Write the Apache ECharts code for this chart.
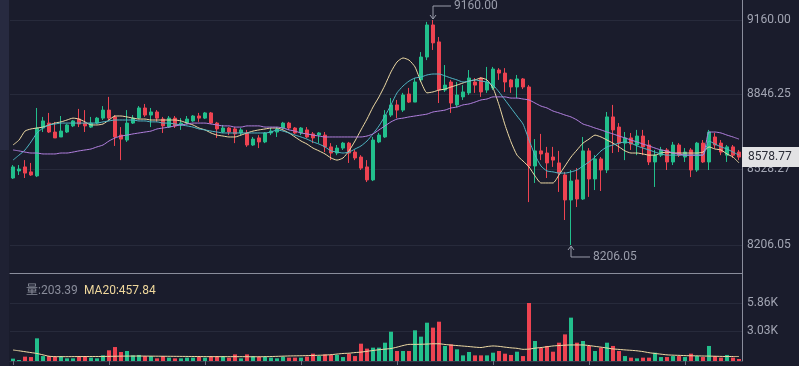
<!DOCTYPE html>
<html><head><meta charset="utf-8">
<script src="https://cdn.jsdelivr.net/npm/echarts@6/dist/echarts.min.js"></script>
<style>html,body{margin:0;padding:0;background:#1a1c2c;}#c{width:799px;height:366px;}</style>
</head><body><div id="c"></div>
<script>
// ---- data ----
const opens=[8490,8520,8537,8516,8499,8702,8723,8685,8664,8685,8711,8740,8723,8706,8723,8744,8778,8749,8672,8651,
8723,8744,8787,8757,8770,8740,8706,8744,8715,8723,8732,8753,8744,8766,8723,8685,8702,8698,8681,8681,
8630,8660,8643,8681,8685,8702,8723,8702,8681,8694,8677,8672,8672,8622,8596,8617,8638,8600,8579,8537,
8482,8643,8664,8757,8800,8778,8846,8812,8906,9003,9139,9067,8863,8897,8800,8834,8851,8897,8914,8863,
8872,8948,8935,8906,8876,8910,8876,8541,8605,8596,8579,8554,8503,8397,8482,8401,8605,8486,8571,8524,
8749,8706,8638,8660,8630,8668,8630,8558,8587,8609,8558,8630,8579,8609,8524,8638,8558,8664,8638,8587,
8622,8600];
const closes=[8537,8528,8511,8503,8702,8732,8685,8660,8689,8715,8732,8719,8711,8723,8744,8778,8744,8664,8655,8723,
8744,8787,8757,8770,8744,8711,8744,8711,8723,8740,8753,8744,8766,8723,8698,8702,8685,8677,8694,8630,
8655,8643,8681,8689,8698,8723,8702,8681,8702,8664,8660,8681,8622,8596,8617,8638,8596,8575,8532,8482,
8651,8672,8757,8800,8778,8842,8812,8897,9003,9139,9063,8863,8884,8808,8842,8855,8914,8884,8855,8897,
8952,8935,8897,8876,8910,8876,8541,8605,8592,8554,8566,8511,8397,8477,8401,8605,8486,8571,8524,8749,
8694,8638,8660,8634,8668,8622,8558,8587,8609,8558,8630,8587,8600,8524,8638,8558,8685,8630,8600,8622,
8587,8578.77];
const lows=[8486,8503,8490,8499,8494,8685,8681,8660,8664,8681,8706,8706,8685,8702,8719,8736,8736,8626,8566,8643,
8719,8740,8749,8706,8728,8681,8702,8702,8694,8719,8728,8728,8740,8719,8660,8681,8672,8638,8672,8622,
8626,8617,8638,8672,8664,8698,8694,8677,8672,8660,8638,8638,8600,8566,8587,8609,8554,8566,8524,8473,
8477,8638,8660,8749,8744,8770,8808,8812,8897,8990,9033,8808,8855,8766,8791,8821,8842,8851,8834,8851,
8863,8906,8855,8851,8829,8867,8388,8469,8566,8490,8537,8431,8312,8206.05,8367,8397,8410,8439,8435,8511,
8596,8600,8566,8609,8587,8587,8545,8452,8579,8524,8545,8579,8558,8494,8516,8554,8524,8617,8587,8558,
8575,8566];
const highs=[8545,8545,8566,8554,8787,8749,8766,8728,8753,8719,8736,8783,8778,8749,8749,8795,8834,8757,8706,8778,
8757,8795,8804,8787,8778,8749,8753,8753,8744,8753,8757,8766,8770,8770,8728,8715,8706,8706,8702,8694,
8664,8672,8685,8702,8706,8728,8728,8706,8706,8706,8685,8685,8685,8638,8630,8643,8643,8609,8587,8566,
8664,8681,8778,8829,8821,8851,8872,8914,9024,9152,9160,9088,8969,8906,8897,8884,8948,8914,8918,8961,
8961,8956,8956,8910,8927,8914,8884,8655,8677,8622,8622,8605,8516,8524,8532,8664,8617,8587,8579,8770,
8800,8723,8685,8681,8694,8694,8651,8609,8622,8617,8643,8638,8617,8617,8643,8651,8694,8681,8651,8630,
8630,8609];
const volumes=[240,100,440,400,2290,500,500,440,500,270,270,500,500,340,270,570,1080,1410,910,1010,
570,610,500,500,270,500,340,270,270,340,340,440,340,500,500,500,340,670,270,670,
500,440,440,340,270,440,340,340,340,440,740,500,670,610,610,400,740,500,1750,1250,
1350,1350,1850,2960,1010,1010,1010,3100,2460,3870,3370,3970,1520,1680,1180,570,910,570,570,570,
840,1010,740,610,940,500,5860,2020,1350,1520,940,1850,2690,4380,1850,2020,1520,1010,1350,1850,
1520,1010,500,340,270,340,340,840,400,400,500,500,400,740,500,400,1520,500,340,610,
340,203.39];
const volMA20=[1110,1030,940,850,760,620,480,440,
440,440,445,450,450,455,455,460,470,480,490,495,500,500,495,490,485,480,475,470,465,460,455,450,445,440,440,440,440,440,440,435,430,
430,440,450,470,490,510,520,530,545,560,580,600,
640,700,760,790,850,900,980,1060,1140,1200,1260,1400,1560,1680,1680,1690,1710,1740,1740,1670,
1610,1560,1510,1460,1400,1360,1460,1520,1480,1400,1330,1280,1180,1200,1300,1360,1440,1520,1560,1600,
1620,1620,1620,1560,1480,1400,1310,1220,1170,1120,1080,1030,950,840,760,690,620,590,570,545,
530,520,505,495,480,465,450,455,457.84];
const ma5=[8630,8651,8689,8698,8702,8706,8715,8723,8728,8736,8744,8740,8728,8715,8715,8719,8736,8753,8753,8749,
8744,8740,8740,8736,8736,8736,8736,8736,8732,8723,8715,8702,8694,8681,8672,8668,8664,8664,8672,8681,
8689,8694,8698,8702,8702,8694,8681,8664,8647,8634,8617,8605,8592,8575,8566,8575,8605,8647,8694,8740,
8791,8834,8884,8940,8982,8999,8990,8961,8897,8851,8855,8863,8867,8876,8884,8893,8901,8906,8914,8906,
8872,8800,8715,8643,8587,8562,8537,8499,8469,8469,8469,8503,8541,8579,8609,8638,8655,8672,8664,8651,
8638,8622,8605,8596,8596,8592,8587,8587,8596,8600,8596,8596,8596,8596,8596,8600,8622,8613,8609,8592,
8579,8554];
const ma10=[8566,8587,8609,8643,8681,8702,8715,8719,8723,8723,8723,8723,8723,8723,8723,8728,8732,8736,8736,8736,
8736,8732,8732,8728,8728,8723,8723,8719,8715,8711,8706,8698,8694,8689,8685,8681,8681,8681,8681,8681,
8681,8681,8681,8685,8694,8689,8681,8672,8664,8655,8643,8634,8622,8605,8600,8596,8600,8613,8626,8647,
8677,8711,8753,8800,8851,8880,8901,8914,8918,8927,8931,8931,8923,8914,8906,8897,8901,8906,8901,8897,
8884,8855,8821,8787,8753,8719,8651,8587,8541,8520,8516,8511,8511,8516,8524,8541,8558,8579,8605,8622,
8630,8638,8643,8638,8626,8617,8609,8600,8592,8587,8587,8587,8587,8587,8587,8587,8647,8634,8622,8613,
8600,8587];
const ma30=[8609,8605,8600,8596,8596,8592,8592,8592,8596,8596,8600,8605,8609,8613,8622,8630,8647,8660,8668,8672,
8677,8681,8685,8689,8698,8702,8706,8711,8715,8719,8723,8723,8723,8719,8715,8711,8711,8706,8706,8711,
8711,8711,8706,8706,8706,8702,8694,8689,8681,8677,8672,8668,8664,8664,8664,8664,8664,8664,8664,8668,
8677,8694,8711,8728,8740,8744,8749,8753,8757,8761,8770,8774,8778,8787,8791,8800,8804,8812,8821,8825,
8834,8834,8834,8829,8829,8825,8821,8808,8795,8787,8774,8766,8757,8749,8736,8719,8711,8702,8694,8685,
8677,8668,8660,8651,8643,8634,8626,8617,8609,8605,8596,8592,8587,8587,8587,8587,8685,8685,8681,8672,
8664,8655];
const priceTicks=[8206.05,8528.27,8846.25,9160.00];
const volTicks=[3030,5860];
const lastPrice=8578.77;
const lastVolume=203.39;
const lastVolMA=457.84;

// ---- styles ----
const UP='#22bf8c', DOWN='#ee4351';
const C_MA5='#eedaa4', C_MA10='#4fb6c4', C_MA30='#b17fde';
const LABEL='#a2a5b3', GRIDC='#272a3b', AXISC='#8a8d9c';
const FONT="Roboto, 'Noto Sans CJK SC', sans-serif";

const cats=opens.map((_,i)=>String(i));
const kData=opens.map((o,i)=>[o,closes[i],lows[i],highs[i]]);
const volData=volumes.map((v,i)=>({value:v,itemStyle:{color: closes[i]>=opens[i]?UP:DOWN}}));

const chart=echarts.init(document.getElementById('c'),null,{renderer:'canvas'});
chart.setOption({
  backgroundColor:'#1a1c2c',
  animation:false,
  textStyle:{fontFamily:FONT},
  grid:[
    {left:10,right:57,top:0,height:273},
    {left:10,right:57,top:273,height:88}
  ],
  xAxis:[
    {type:'category',gridIndex:0,data:cats,boundaryGap:true,
     axisLine:{show:true,lineStyle:{color:AXISC,width:1}},axisTick:{show:false},axisLabel:{show:false},splitLine:{show:false}},
    {type:'category',gridIndex:1,data:cats,boundaryGap:true,
     axisLine:{show:true,lineStyle:{color:'#34374a',width:1}},
     axisTick:{show:true,alignWithLabel:true,interval:15,length:4,lineStyle:{color:'#6c6f80'}},
     axisLabel:{show:false},splitLine:{show:false}}
  ],
  yAxis:[
    {type:'value',gridIndex:0,position:'right',min:8087.3,max:9244.8,scale:true,
     axisLine:{show:true,lineStyle:{color:AXISC,width:1}},
     axisTick:{show:false,customValues:priceTicks},
     axisLabel:{show:true,customValues:priceTicks,formatter:v=>v.toFixed(2),color:LABEL,fontSize:12,margin:5,fontFamily:FONT},
     splitLine:{show:true,lineStyle:{color:GRIDC,width:1}}},
    {type:'value',gridIndex:1,position:'right',min:0,max:8890,
     axisLine:{show:true,lineStyle:{color:AXISC,width:1}},
     axisTick:{show:false,customValues:volTicks},
     axisLabel:{show:true,customValues:volTicks,formatter:v=>(v/1000).toFixed(2)+'K',color:LABEL,fontSize:12,margin:5,fontFamily:FONT},
     splitLine:{show:true,lineStyle:{color:GRIDC,width:1}}}
  ],
  series:[
    {type:'candlestick',xAxisIndex:0,yAxisIndex:0,data:kData,barWidth:4,
     itemStyle:{color:UP,color0:DOWN,borderColor:UP,borderColor0:DOWN,borderWidth:1}},
    {type:'line',xAxisIndex:0,yAxisIndex:0,data:ma5,symbol:'none',smooth:0.2,lineStyle:{color:C_MA5,width:1}},
    {type:'line',xAxisIndex:0,yAxisIndex:0,data:ma10,symbol:'none',smooth:0.2,lineStyle:{color:C_MA10,width:1}},
    {type:'line',xAxisIndex:0,yAxisIndex:0,data:ma30,symbol:'none',smooth:0.2,lineStyle:{color:C_MA30,width:1}},
    {type:'bar',xAxisIndex:1,yAxisIndex:1,data:volData,barWidth:4},
    {type:'line',xAxisIndex:1,yAxisIndex:1,data:volMA20,symbol:'none',smooth:0.2,lineStyle:{color:C_MA5,width:1}}
  ]
});

// annotations positioned through the chart's own scales
const maxIdx=highs.indexOf(Math.max(...highs));
const minIdx=lows.indexOf(Math.min(...lows));
const pMax=chart.convertToPixel({gridIndex:0},[maxIdx,highs[maxIdx]]);
const pMin=chart.convertToPixel({gridIndex:0},[minIdx,lows[minIdx]]);
const pLast=chart.convertToPixel({gridIndex:0},[closes.length-1,lastPrice]);
const ANN='#9a9dab';
const g=[
  {type:'rect',shape:{x:0,y:0,width:9,height:150},style:{fill:'#272a40'},z:100},
  {type:'rect',shape:{x:0,y:150,width:9,height:216},style:{fill:'#1f2133'},z:100},
  // max marker
  {type:'polyline',shape:{points:[[pMax[0],pMax[1]-14],[pMax[0],pMax[1]-1]]},style:{stroke:ANN,lineWidth:1,fill:null},z:100},
  {type:'polyline',shape:{points:[[pMax[0]-3,pMax[1]-5],[pMax[0],pMax[1]-1],[pMax[0]+3,pMax[1]-5]]},style:{stroke:ANN,lineWidth:1,fill:null},z:100},
  {type:'polyline',shape:{points:[[pMax[0],pMax[1]-14],[pMax[0]+18,pMax[1]-14]]},style:{stroke:ANN,lineWidth:1,fill:null},z:100},
  {type:'text',x:pMax[0]+21,y:pMax[1]-14,style:{text:highs[maxIdx].toFixed(2),fill:ANN,font:'12px '+FONT,textVerticalAlign:'middle',textAlign:'left'},z:100},
  // min marker
  {type:'polyline',shape:{points:[[pMin[0],pMin[1]+1],[pMin[0],pMin[1]+12],[pMin[0]+19,pMin[1]+12]]},style:{stroke:ANN,lineWidth:1,fill:null},z:100},
  {type:'polyline',shape:{points:[[pMin[0]-3,pMin[1]+5],[pMin[0],pMin[1]+1],[pMin[0]+3,pMin[1]+5]]},style:{stroke:ANN,lineWidth:1,fill:null},z:100},
  {type:'text',x:pMin[0]+22,y:pMin[1]+12,style:{text:lows[minIdx].toFixed(2),fill:ANN,font:'12px '+FONT,textVerticalAlign:'middle',textAlign:'left'},z:100},
  // last price tag
  {type:'rect',shape:{x:742,y:pLast[1]-10,width:60,height:20},style:{fill:'#e2e2e4'},z:100},
  {type:'text',x:748,y:pLast[1],style:{text:lastPrice.toFixed(2),fill:'#2a2c36',font:'12px '+FONT,textVerticalAlign:'middle',textAlign:'left'},z:101},
  // volume legend
  {type:'text',x:26,y:291,style:{text:'量:'+lastVolume.toFixed(2),fill:'#8a8d9b',font:'12px '+FONT,textVerticalAlign:'middle'},z:100},
  {type:'text',x:84,y:291,style:{text:'MA20:'+lastVolMA.toFixed(2),fill:'#efd79c',font:'12px '+FONT,textVerticalAlign:'middle'},z:100}
];
chart.setOption({graphic:g});
</script></body></html>
